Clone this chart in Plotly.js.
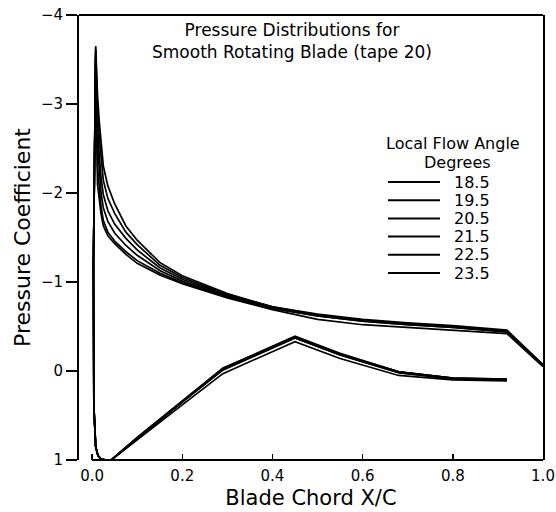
<!DOCTYPE html>
<html>
<head>
<meta charset="utf-8">
<script src="https://cdn.plot.ly/plotly-3.0.1.min.js"></script>
<style>html,body{margin:0;padding:0;background:#fff;}#chart{width:556px;height:512px;}</style>
</head>
<body>
<div id="chart"></div>
<script>
// ---- data ----
const flowAngles = ['18.5', '19.5', '20.5', '21.5', '22.5', '23.5'];

// upper (suction) surface chord stations
const xUpper = [0.008, 0.012, 0.016, 0.02, 0.025, 0.035, 0.05, 0.075, 0.10, 0.15, 0.20, 0.30, 0.40, 0.50, 0.60, 0.70, 0.80, 0.92, 1.00];
const cpUpper185 = [-3.50, -2.10, -1.90, -1.76, -1.63, -1.52, -1.43, -1.31, -1.21, -1.08, -0.98, -0.82, -0.69, -0.58, -0.52, -0.49, -0.46, -0.42, -0.05];
const cpUpper195 = [-3.53, -2.30, -2.02, -1.84, -1.69, -1.56, -1.46, -1.34, -1.24, -1.10, -0.99, -0.83, -0.70, -0.62, -0.56, -0.52, -0.49, -0.44, -0.06];
const cpUpper205 = [-3.56, -2.55, -2.22, -2.00, -1.83, -1.68, -1.55, -1.41, -1.30, -1.13, -1.01, -0.84, -0.71, -0.62, -0.56, -0.52, -0.49, -0.44, -0.06];
const cpUpper215 = [-3.60, -2.75, -2.42, -2.17, -1.98, -1.80, -1.65, -1.49, -1.36, -1.16, -1.03, -0.85, -0.71, -0.63, -0.57, -0.53, -0.50, -0.45, -0.06];
const cpUpper225 = [-3.62, -2.95, -2.62, -2.36, -2.14, -1.94, -1.77, -1.56, -1.42, -1.19, -1.05, -0.86, -0.72, -0.63, -0.57, -0.53, -0.50, -0.45, -0.07];
const cpUpper235 = [-3.65, -3.10, -2.80, -2.55, -2.30, -2.08, -1.88, -1.63, -1.47, -1.22, -1.07, -0.87, -0.72, -0.64, -0.58, -0.54, -0.51, -0.46, -0.07];

// lower (pressure) surface chord stations, trailing edge to leading edge
const xLower = [0.92, 0.80, 0.68, 0.55, 0.45, 0.29, 0.20, 0.10, 0.04, 0.02, 0.013, 0.008, 0.004, 0.003];
const cpLower185 = [0.11, 0.10, 0.05, -0.14, -0.33, 0.03, 0.38, 0.78, 1.01, 0.99, 0.95, 0.85, 0.40, -1.20];
const cpLower195 = [0.10, 0.09, 0.02, -0.18, -0.37, -0.01, 0.35, 0.76, 1.01, 0.99, 0.95, 0.85, 0.40, -1.20];
const cpLower205 = [0.10, 0.09, 0.02, -0.18, -0.37, -0.02, 0.35, 0.76, 1.01, 0.99, 0.95, 0.85, 0.40, -1.20];
const cpLower215 = [0.10, 0.08, 0.01, -0.19, -0.38, -0.02, 0.34, 0.75, 1.01, 0.99, 0.95, 0.85, 0.40, -1.20];
const cpLower225 = [0.09, 0.08, 0.01, -0.19, -0.38, -0.03, 0.34, 0.75, 1.01, 0.99, 0.95, 0.85, 0.40, -1.20];
const cpLower235 = [0.09, 0.08, 0.01, -0.20, -0.39, -0.03, 0.34, 0.75, 1.01, 0.99, 0.95, 0.85, 0.40, -1.20];

const cpUpperAll = [cpUpper185, cpUpper195, cpUpper205, cpUpper215, cpUpper225, cpUpper235];
const cpLowerAll = [cpLower185, cpLower195, cpLower205, cpLower215, cpLower225, cpLower235];

const yTicks = [-4, -3, -2, -1, 0, 1];
const xTicks = [0, 0.2, 0.4, 0.6, 0.8, 1.0];
const xTickText = ['0.0', '0.2', '0.4', '0.6', '0.8', '1.0'];

// ---- geometry helpers (pixel -> paper) ----
const W = 556, H = 512;
const M = {l: 79, r: 13, t: 15, b: 52};
const plotW = W - M.l - M.r, plotH = H - M.t - M.b;
const px = v => (v - M.l) / plotW;
const py = v => (H - M.b - v) / plotH;

const FONT = 'DejaVu Sans, Verdana, sans-serif';

const traces = flowAngles.map((a, i) => ({
  type: 'scatter',
  mode: 'lines',
  name: a,
  x: xLower.concat(xUpper),
  y: cpLowerAll[i].concat(cpUpperAll[i]),
  line: {color: '#000', width: 1.7},
  showlegend: false,
  hoverinfo: 'skip'
}));

const annotations = [
  {text: 'Pressure Distributions for<br>Smooth Rotating Blade (tape 20)', x: px(292), y: py(41), size: 17},
  {text: 'Local Flow Angle', x: px(453), y: py(144), size: 16},
  {text: 'Degrees', x: px(457), y: py(162), size: 16}
].map(a => ({xref: 'paper', yref: 'paper', showarrow: false, text: a.text, x: a.x, y: a.y,
  xanchor: 'center', yanchor: 'middle', align: 'center',
  font: {family: FONT, size: a.size, color: '#000'}}));

const shapes = [
  {type: 'line', xref: 'paper', yref: 'paper', x0: 0, x1: 1, y0: 1, y1: 1, line: {color: '#000', width: 2}},
  {type: 'line', xref: 'x', yref: 'paper', x0: 0, x1: 1, y0: 0, y1: 0, line: {color: '#000', width: 2}}
];

flowAngles.forEach((a, i) => {
  const rowY = 182 + i * 18.2;
  shapes.push({type: 'line', xref: 'paper', yref: 'paper', x0: px(388), x1: px(440),
    y0: py(rowY), y1: py(rowY), line: {color: '#000', width: 2}});
  annotations.push({text: a, xref: 'paper', yref: 'paper', x: px(452), y: py(rowY),
    xanchor: 'left', yanchor: 'middle', showarrow: false,
    font: {family: FONT, size: 16, color: '#000'}});
});

const layout = {
  width: W, height: H,
  margin: {l: M.l, r: M.r, t: M.t, b: M.b, pad: 0},
  paper_bgcolor: '#fff', plot_bgcolor: '#fff',
  font: {family: FONT, color: '#000', size: 16},
  showlegend: false,
  xaxis: {
    range: [-0.029, 1.0], tickvals: xTicks, ticktext: xTickText,
    ticks: 'inside', ticklen: 6, tickwidth: 1.5, tickcolor: '#000',
    ticklabelstandoff: 5,
    showline: false, showgrid: false, zeroline: false,
    tickfont: {family: FONT, size: 15, color: '#000'},
    title: {text: 'Blade Chord X/C', font: {family: FONT, size: 21, color: '#000'}, standoff: 6}
  },
  yaxis: {
    range: [1, -4], tickvals: yTicks, ticktext: yTicks.map(v => v < 0 ? '\u2212' + Math.abs(v) : String(v)),
    ticks: 'outside', ticklen: 11, tickwidth: 1.5, tickcolor: '#000',
    showline: true, linewidth: 2, linecolor: '#000', mirror: true,
    showgrid: false, zeroline: false,
    tickfont: {family: FONT, size: 15, color: '#000'},
    title: {text: 'Pressure Coefficient', font: {family: FONT, size: 22, color: '#000'}, standoff: 4}
  },
  shapes: shapes,
  annotations: annotations
};

Plotly.newPlot('chart', traces, layout, {staticPlot: true, displayModeBar: false});
</script>
</body>
</html>
